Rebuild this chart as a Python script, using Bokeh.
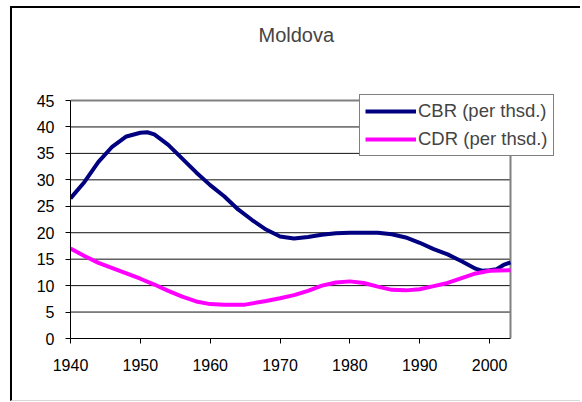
from bokeh.plotting import figure
from bokeh.layouts import column
from bokeh.models import Range1d, FixedTicker, Legend, LegendItem, Title
from bokeh.embed import file_html
from bokeh.resources import INLINE

title_text = "Moldova"
cbr_label = "CBR (per thsd.)"
cdr_label = "CDR (per thsd.)"

cbr_years = [1940, 1942, 1944, 1946, 1948, 1950, 1951, 1952, 1954, 1956, 1958, 1960,
             1962, 1964, 1966, 1968, 1970, 1972, 1974, 1976, 1978, 1980, 1982, 1984,
             1986, 1988, 1990, 1992, 1994, 1996, 1998, 1999, 2000, 2001, 2002, 2003]
cbr_values = [26.5, 29.6, 33.4, 36.3, 38.2, 38.9, 39.0, 38.6, 36.6, 34.0, 31.4, 29.0,
              26.9, 24.4, 22.4, 20.6, 19.3, 18.9, 19.2, 19.6, 19.9, 20.0, 20.0, 20.0,
              19.7, 19.1, 18.1, 16.9, 15.9, 14.6, 13.2, 12.8, 12.9, 13.1, 13.9, 14.4]

cdr_years = [1940, 1942, 1944, 1946, 1948, 1950, 1952, 1954, 1956, 1958, 1960, 1962,
             1965, 1968, 1970, 1972, 1974, 1976, 1978, 1980, 1982, 1984, 1986, 1988,
             1990, 1992, 1994, 1996, 1998, 2000, 2003]
cdr_values = [17.0, 15.6, 14.3, 13.3, 12.3, 11.3, 10.2, 9.0, 7.9, 7.0, 6.5, 6.4,
              6.4, 7.1, 7.6, 8.2, 9.0, 10.0, 10.6, 10.8, 10.5, 9.8, 9.2, 9.1,
              9.3, 9.9, 10.5, 11.4, 12.3, 12.8, 12.9]

x_ticks = [1940, 1950, 1960, 1970, 1980, 1990, 2000]
y_ticks = [0, 5, 10, 15, 20, 25, 30, 35, 40, 45]
x_min, x_max = 1940, 2003
y_min, y_max = 0, 45

FONT = "Liberation Sans"

# frame is widened beyond the axes box so the legend (which overhangs) is not clipped
plot_w, frame_w = 440, 492
plot_h, frame_h = 238, 250
x_end = x_min + (x_max - x_min) * frame_w / plot_w
y_end = y_min + (y_max - y_min) * frame_h / plot_h

fig_w, fig_h = 568, 392
p = figure(width=fig_w, height=fig_h, output_backend="svg", toolbar_location=None,
           x_range=Range1d(x_min, x_end), y_range=Range1d(y_min, y_end),
           min_border_left=58, min_border_right=fig_w - 58 - frame_w,
           min_border_top=fig_h - 62 - frame_h, min_border_bottom=62,
           title=None)

# a blank spacer title next to the frame pushes the real title further up
spacer = Title(text=" ", text_font=FONT, text_font_size="10px", standoff=30)
p.add_layout(spacer, "above")
main_title = Title(text=title_text, text_font=FONT, text_font_size="20px",
                   text_font_style="normal", align="left", offset=188, standoff=0)
p.add_layout(main_title, "above")

p.background_fill_color = "white"
p.border_fill_color = "white"
p.outline_line_color = None

p.xgrid.grid_line_color = None
p.ygrid.grid_line_color = None

# grid lines and the grey box edges, limited to the data box
grid_y = [t for t in y_ticks if t not in (y_min, y_max)]
p.segment(x0=[x_min] * len(grid_y), x1=[x_max] * len(grid_y), y0=grid_y, y1=grid_y,
          line_color="#111111", line_width=1)
p.segment(x0=[x_min, x_max], x1=[x_max, x_max], y0=[y_max, y_min], y1=[y_max, y_max],
          line_color="#808080", line_width=2)

p.xaxis.ticker = FixedTicker(ticks=x_ticks)
p.yaxis.ticker = FixedTicker(ticks=y_ticks)
p.xaxis.bounds = (x_min, x_max)
p.yaxis.bounds = (y_min, y_max)
for ax in (p.xaxis[0], p.yaxis[0]):
    ax.axis_line_color = "black"
    ax.axis_line_width = 1
    ax.major_tick_line_color = "black"
    ax.major_tick_in = 0
    ax.major_tick_out = 5
    ax.minor_tick_line_color = None
    ax.major_label_text_font = FONT
    ax.major_label_text_font_size = "16px"
    ax.major_label_text_color = "black"
p.xaxis.major_label_standoff = 15
p.yaxis.major_label_standoff = 11

r1 = p.line(cbr_years, cbr_values, line_color="#000080", line_width=4)
r2 = p.line(cdr_years, cdr_values, line_color="#FF00FF", line_width=4)

legend = Legend(items=[LegendItem(label=cbr_label, renderers=[r1]),
                       LegendItem(label=cdr_label, renderers=[r2])],
                location=(289, 182))
legend.label_text_font = FONT
legend.label_text_font_size = "18.5px"
legend.glyph_width = 51
legend.glyph_height = 20
legend.label_height = 20
legend.label_standoff = 2
legend.spacing = 6
legend.padding = 5
legend.margin = 0
legend.border_line_color = "black"
legend.border_line_width = 1
legend.background_fill_color = "white"
legend.background_fill_alpha = 1
p.add_layout(legend)

layout = column(p, margin=(6, 0, 0, 10),
                styles={"border-left": "2px solid black", "border-top": "2px solid black",
                        "border-bottom": "1px solid #d8d8d8"})

open("out.html", "w").write(file_html(layout, INLINE))
